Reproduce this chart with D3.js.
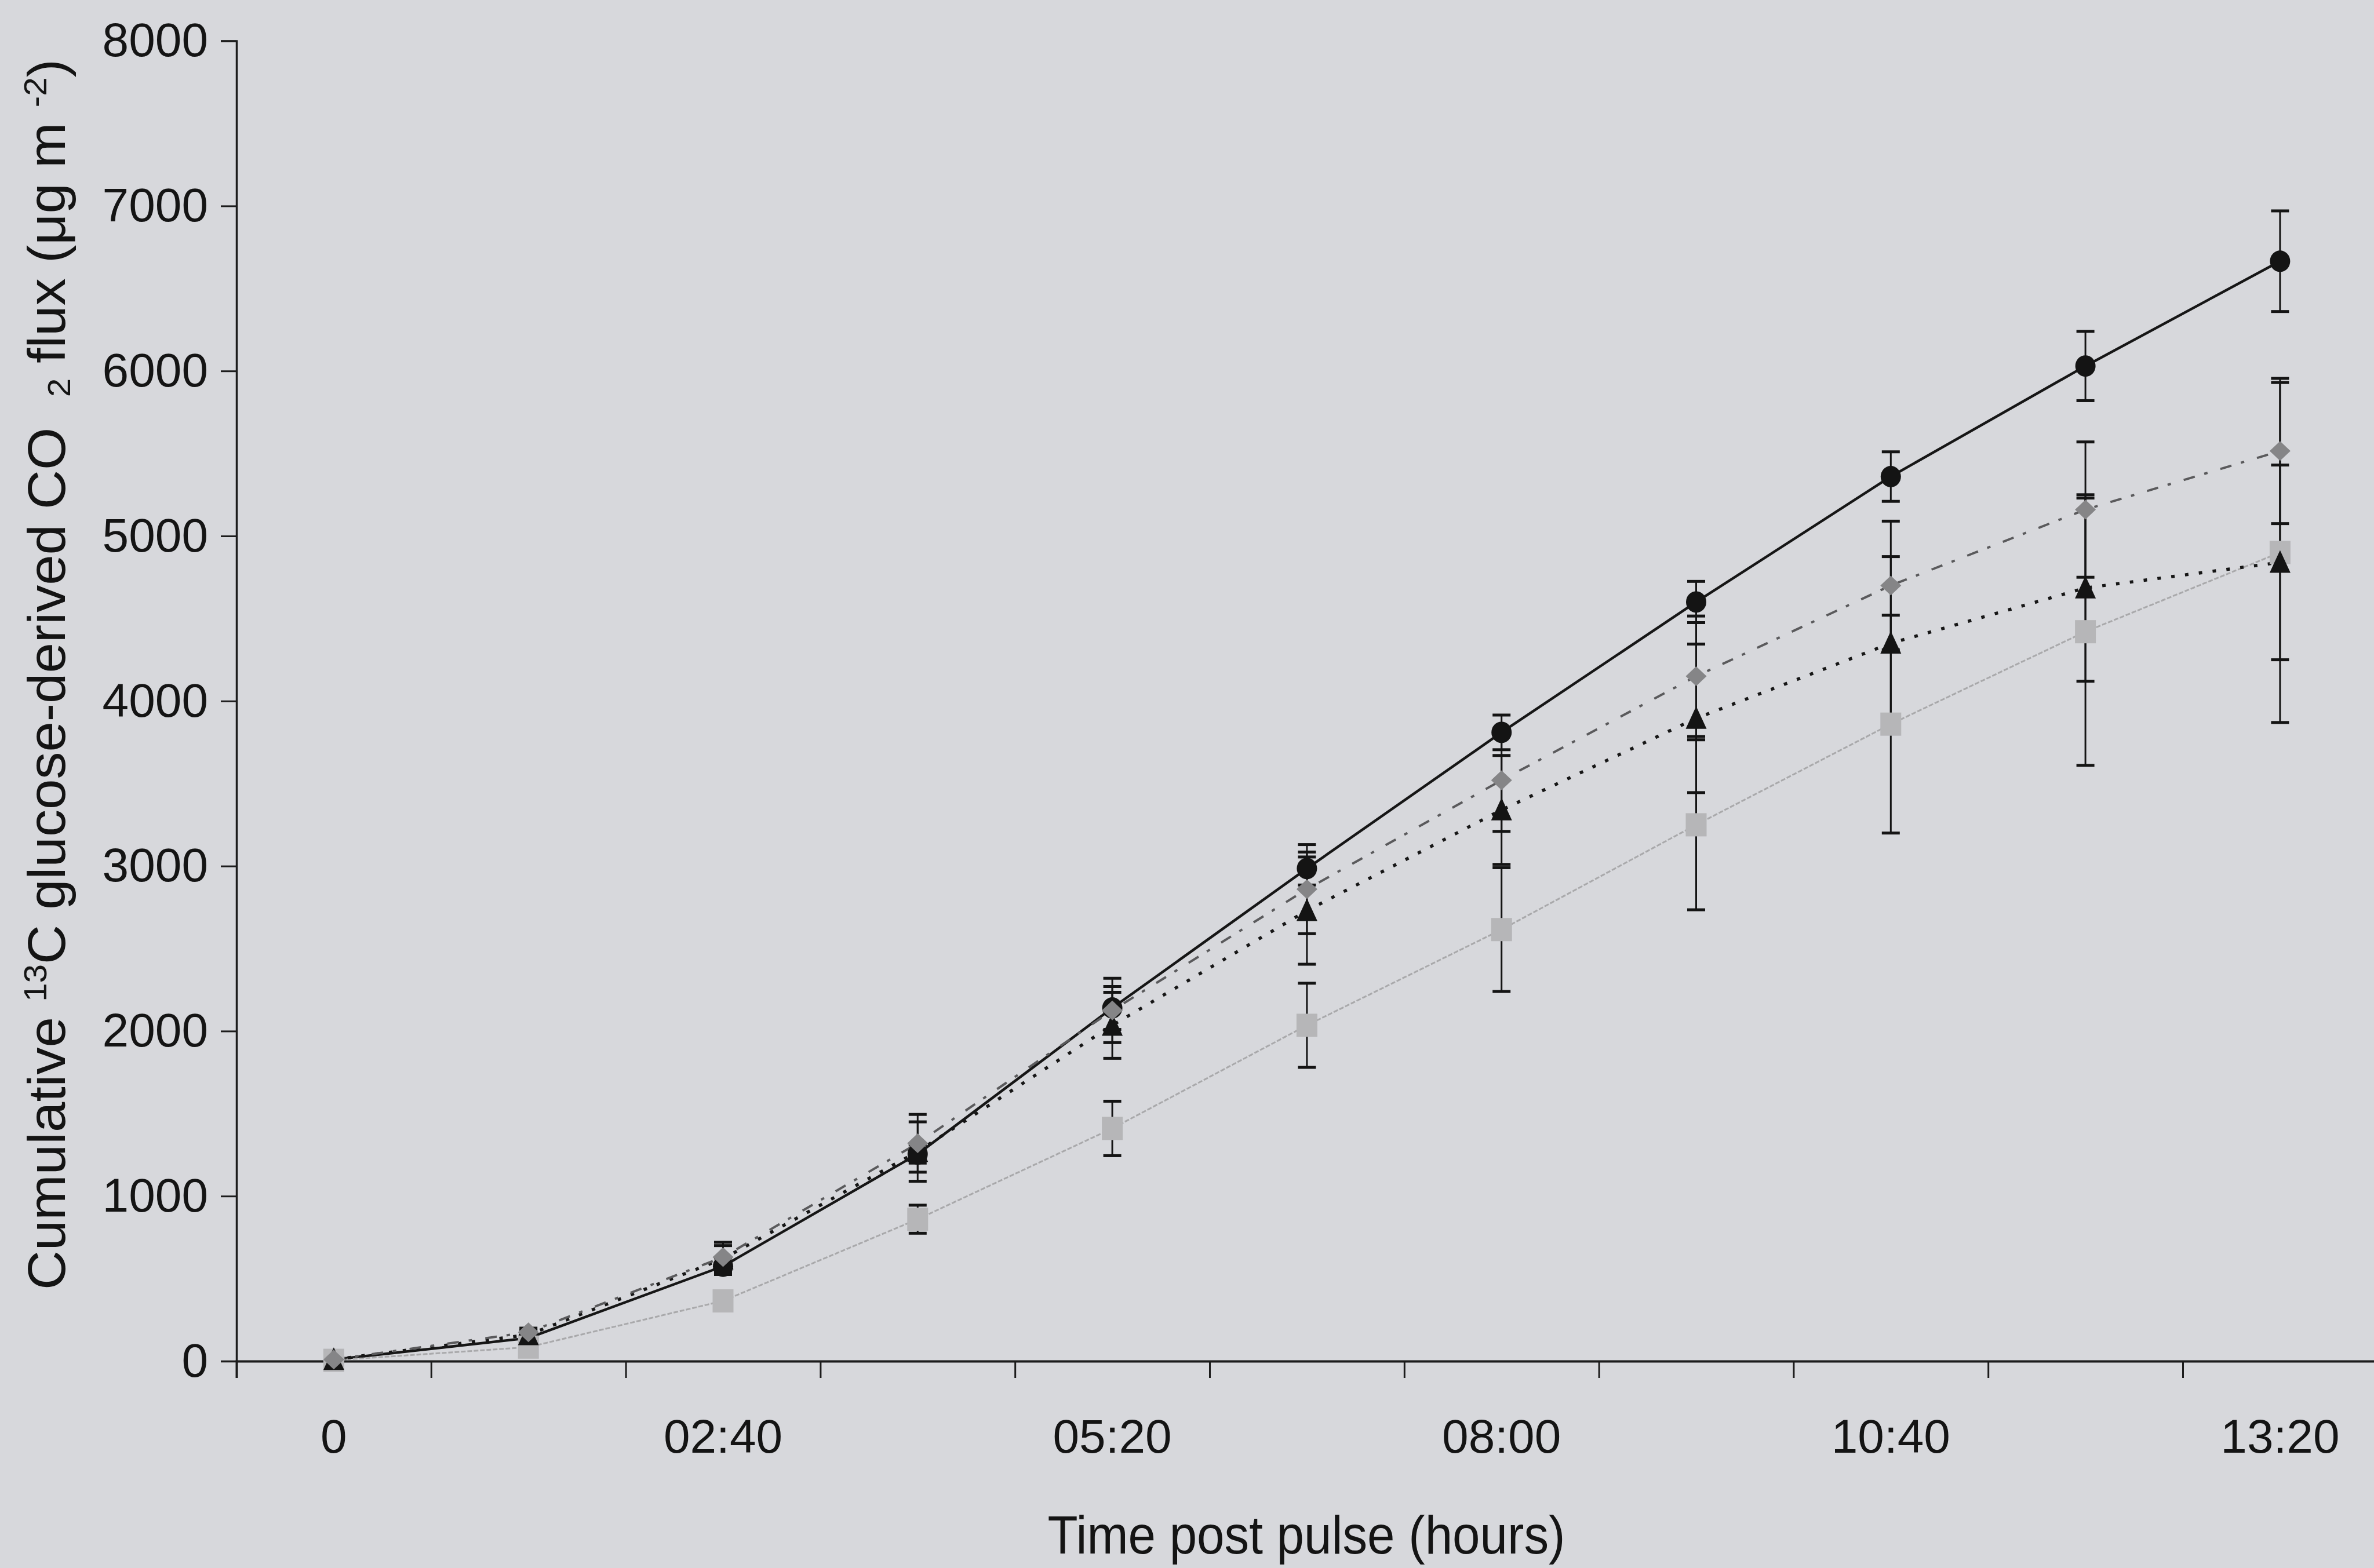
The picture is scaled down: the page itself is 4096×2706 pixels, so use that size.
<!DOCTYPE html>
<html>
<head>
<meta charset="utf-8">
<script src="https://cdn.jsdelivr.net/npm/d3@7"></script>
<style>
  html, body { margin: 0; padding: 0; background: #d7d8dc; }
  svg { display: block; }
  text { font-family: "Liberation Sans", Arial, Helvetica, sans-serif; fill: #141414; }
</style>
</head>
<body>
<svg id="chart" width="4096" height="2706"></svg>
<script>
// Sampling times (category axis) and the labels shown under it
const categories = ["0", "01:20", "02:40", "04:00", "05:20", "06:40", "08:00", "09:20", "10:40", "12:00", "13:20"];
const xTickLabels = ["0", "02:40", "05:20", "08:00", "10:40", "13:20"];
const yTicks = [0, 1000, 2000, 3000, 4000, 5000, 6000, 7000, 8000];

// Cumulative 13C glucose-derived CO2 flux (µg m-2), means and standard errors
const circleMean   = [10, 140, 575, 1255, 2140, 2985, 3810, 4600, 5360, 6030, 6665];
const circleErr    = [0, 20, 50, 55, 130, 100, 105, 125, 150, 210, 305];
const diamondMean  = [10, 175, 630, 1320, 2125, 2860, 3520, 4150, 4700, 5160, 5515];
const diamondErr   = [0, 25, 90, 175, 195, 270, 310, 365, 390, 410, 440];
const triangleMean = [10, 160, 620, 1270, 2035, 2730, 3340, 3895, 4350, 4685, 4840];
const triangleErr  = [0, 25, 80, 180, 200, 325, 330, 450, 525, 565, 590];
const squareMean   = [5, 85, 365, 860, 1410, 2035, 2615, 3250, 3860, 4420, 4900];
const squareErr    = [0, 15, 50, 85, 165, 255, 375, 515, 660, 810, 1030];

// Drawing order: later entries sit on top
const series = [
  { name: "circle",   mean: circleMean,   err: circleErr,   marker: "circle",
    line: { stroke: "#161616", width: 4.5, dash: null }, fill: "#141414" },
  { name: "square",   mean: squareMean,   err: squareErr,   marker: "square",
    line: { stroke: "#a9a9ab", width: 3, dash: "8,3" }, fill: "#b6b6b8" },
  { name: "triangle", mean: triangleMean, err: triangleErr, marker: "triangle",
    line: { stroke: "#161616", width: 5.5, dash: "6,18" }, fill: "#141414" },
  { name: "diamond",  mean: diamondMean,  err: diamondErr,  marker: "diamond",
    line: { stroke: "#5a5a5c", width: 4, dash: "20,17,6,23" }, fill: "#858587" }
];

const W = 4096, H = 2706;
const svg = d3.select("#chart");
svg.append("rect").attr("width", W).attr("height", H).attr("fill", "#d7d8dc");

const axisLeftX = 408;
const bandW = 335.8;
const x = d3.scaleBand().domain(categories)
  .range([axisLeftX, axisLeftX + bandW * categories.length])
  .paddingInner(0).paddingOuter(0);
const xEdge = d3.scaleLinear().domain([0, categories.length]).range(x.range());
const y = d3.scaleLinear().domain([0, 8000]).range([2349, 70.6]);
const cx = c => x(c) + x.bandwidth() / 2;

const tickFont = 82;

// Y axis
const yAxisG = svg.append("g")
  .attr("transform", `translate(${axisLeftX},0)`)
  .call(d3.axisLeft(y).tickValues(yTicks).tickSize(27).tickPadding(22).tickFormat(d3.format("d")));
yAxisG.selectAll("path.domain").attr("stroke", "#1c1c1c").attr("stroke-width", 3.5);
yAxisG.selectAll(".tick line").attr("stroke", "#1c1c1c").attr("stroke-width", 3);
yAxisG.selectAll(".tick text").attr("font-size", tickFont).attr("fill", "#141414")
  .attr("font-family", "'Liberation Sans', Arial, sans-serif");

// X axis: tick marks on category boundaries
const xAxisG = svg.append("g")
  .attr("transform", `translate(0,${y(0)})`)
  .call(d3.axisBottom(xEdge).tickValues(d3.range(0, categories.length + 1)).tickSize(29).tickFormat(""));
xAxisG.selectAll("path.domain").attr("stroke", "#1c1c1c").attr("stroke-width", 4);
xAxisG.selectAll(".tick line").attr("stroke", "#1c1c1c").attr("stroke-width", 3);

// X axis: labels centred on every other category
const xLabG = svg.append("g")
  .attr("transform", `translate(0,${y(0)})`)
  .call(d3.axisBottom(x).tickValues(xTickLabels).tickSize(0).tickPadding(100));
xLabG.select("path.domain").remove();
xLabG.selectAll(".tick text").attr("font-size", tickFont).attr("fill", "#141414")
  .attr("font-family", "'Liberation Sans', Arial, sans-serif");

// Series lines
const plot = svg.append("g");
series.forEach(s => {
  const line = d3.line().x((d, i) => cx(categories[i])).y(d => y(d));
  plot.append("path")
    .attr("d", line(s.mean))
    .attr("fill", "none")
    .attr("stroke", s.line.stroke)
    .attr("stroke-width", s.line.width)
    .attr("stroke-dasharray", s.line.dash)
    .attr("stroke-linejoin", "round");
});

// Error bars
const capHalf = 15.5;
series.forEach(s => {
  const eg = plot.append("g").attr("stroke", "#141414");
  s.mean.forEach((m, i) => {
    const e = s.err[i];
    if (!e) return;
    const px = cx(categories[i]);
    const y1 = y(m + e), y2 = y(m - e);
    eg.append("line").attr("x1", px).attr("x2", px).attr("y1", y1).attr("y2", y2).attr("stroke-width", 3);
    [y1, y2].forEach(yy => {
      eg.append("line").attr("x1", px - capHalf).attr("x2", px + capHalf)
        .attr("y1", yy).attr("y2", yy).attr("stroke-width", 5);
    });
  });
});

// Markers
series.forEach(s => {
  const mg = plot.append("g").attr("fill", s.fill);
  s.mean.forEach((m, i) => {
    const px = cx(categories[i]), py = y(m);
    if (s.marker === "circle") {
      mg.append("ellipse").attr("cx", px).attr("cy", py).attr("rx", 17.5).attr("ry", 18.5);
    } else if (s.marker === "square") {
      mg.append("rect").attr("x", px - 18).attr("y", py - 20).attr("width", 36).attr("height", 40);
    } else if (s.marker === "diamond") {
      mg.append("path").attr("d", `M${px},${py - 17}L${px + 18},${py}L${px},${py + 17}L${px - 18},${py}Z`);
    } else if (s.marker === "triangle") {
      mg.append("path").attr("d", `M${px},${py - 21}L${px + 18},${py + 18}L${px - 18},${py + 18}Z`);
    }
  });
});

// Axis titles
svg.append("text")
  .attr("x", 2254).attr("y", 2681)
  .attr("text-anchor", "middle")
  .attr("font-size", 92)
  .attr("textLength", 893)
  .attr("lengthAdjust", "spacingAndGlyphs")
  .text("Time post pulse (hours)");

const fs = 90;
const yt = svg.append("text")
  .attr("transform", "translate(112,1164) rotate(-90)")
  .attr("text-anchor", "middle")
  .attr("font-size", fs)
  .attr("textLength", 2124)
  .attr("lengthAdjust", "spacingAndGlyphs");
yt.append("tspan").text("Cumulative ");
yt.append("tspan").attr("font-size", fs * 0.62).attr("dy", -fs * 0.36).text("13");
yt.append("tspan").attr("dy", fs * 0.36).text("C glucose-derived CO\u00A0\u00A0");
yt.append("tspan").attr("font-size", fs * 0.62).attr("dy", fs * 0.1).text("2");
yt.append("tspan").attr("dy", -fs * 0.1).text(" flux (\u03BCg m\u00A0");
yt.append("tspan").attr("font-size", fs * 0.62).attr("dy", -fs * 0.36).text("-2");
yt.append("tspan").attr("dy", fs * 0.36).text(")");
</script>
</body>
</html>
